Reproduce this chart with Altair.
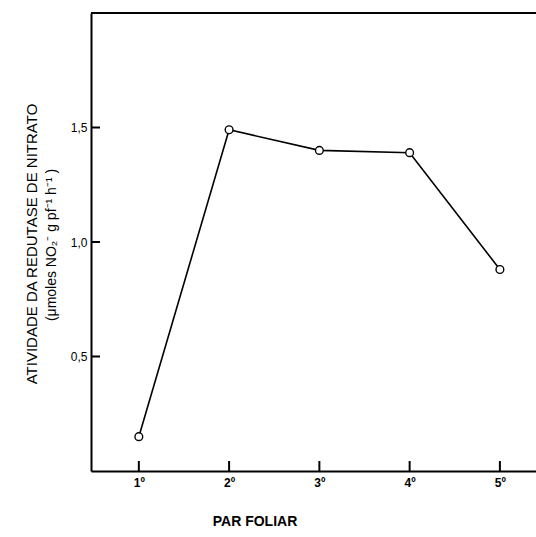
import altair as alt
import pandas as pd

# Data
pares = [1, 2, 3, 4, 5]
atividade = [0.15, 1.49, 1.40, 1.39, 0.88]
y_ticks = [0.5, 1.0, 1.5]
x_ticks = [1, 2, 3, 4, 5]
y_title_lines = ["ATIVIDADE DA REDUTASE DE NITRATO", "(\u03bcmoles NO\u2082\u207b  g pf\u207b\u00b9 h\u207b\u00b9 )"]
x_title = "PAR FOLIAR"

W, H = 445, 458
FONT = "Liberation Sans"

df = pd.DataFrame({"par": pares, "atividade": atividade})
df_yt = pd.DataFrame({"yv": y_ticks})
df_xt = pd.DataFrame({"xv": x_ticks})

xscale = alt.Scale(domain=[0.47, 5.4], nice=False, zero=False)
yscale = alt.Scale(domain=[0, 2.0], nice=False, zero=False)

xaxis = alt.Axis(
    values=x_ticks, tickSize=0, grid=False, domainColor="black", domainWidth=2,
    labelExpr="datum.value + '\u00ba'", labelFont=FONT, labelFontSize=12,
    labelFontWeight="bold", labelColor="black", labelPadding=6, title=None,
)
yaxis = alt.Axis(
    values=y_ticks, tickSize=0, grid=False, domainColor="black", domainWidth=2,
    labelExpr="replace(format(datum.value, '.1f'), '.', ',')", labelFont=FONT,
    labelFontSize=12, labelColor="black", labelPadding=4, title=None,
)

# inward-pointing tick marks
ytick_marks = alt.Chart(df_yt).mark_rule(color="black", strokeWidth=2).encode(
    y=alt.Y("yv:Q", scale=yscale, axis=yaxis), x=alt.value(0), x2=alt.value(9)
)
xtick_marks = alt.Chart(df_xt).mark_rule(color="black", strokeWidth=2).encode(
    x=alt.X("xv:Q", scale=xscale, axis=xaxis), y=alt.value(H), y2=alt.value(H - 10)
)

base = alt.Chart(df)
line = base.mark_line(color="black", strokeWidth=1.6).encode(
    x=alt.X("par:Q", scale=xscale),
    y=alt.Y("atividade:Q", scale=yscale),
)
pts = base.mark_point(shape="circle", filled=True, fill="white", stroke="black",
                      strokeWidth=1.4, size=60, opacity=1).encode(
    x=alt.X("par:Q", scale=xscale),
    y=alt.Y("atividade:Q", scale=yscale),
)

top_frame = alt.Chart(pd.DataFrame({"t": [x_title]})).mark_rule(color="black", strokeWidth=2).encode(
    x=alt.value(0), x2=alt.value(W), y=alt.value(0)
)

df_yt1 = pd.DataFrame({"t": [y_title_lines[0]]})
df_yt2 = pd.DataFrame({"t": [y_title_lines[1]]})
df_xtl = pd.DataFrame({"t": [x_title]})

ytitle1 = alt.Chart(df_yt1).mark_text(
    angle=270, font=FONT, fontSize=15, color="black", align="center", baseline="middle"
).encode(text="t:N", x=alt.value(-59), y=alt.value(231))
ytitle2 = alt.Chart(df_yt2).mark_text(
    angle=270, font=FONT, fontSize=14, color="black", align="center", baseline="middle"
).encode(text="t:N", x=alt.value(-39), y=alt.value(232))
xtitle = alt.Chart(df_xtl).mark_text(
    font=FONT, fontSize=14, fontWeight="bold", color="black", align="center", baseline="middle"
).encode(text="t:N", x=alt.value(164), y=alt.value(H + 51))

chart = alt.layer(
    ytick_marks, xtick_marks, line, pts, top_frame, ytitle1, ytitle2, xtitle
).properties(
    width=W, height=H,
    autosize=alt.AutoSizeParams(type="none"),
    padding={"left": 91, "top": 13, "right": 0, "bottom": 66},
    background="white",
).configure_view(stroke=None)

chart.save("out.html", embed_options={"renderer": "svg", "actions": False})
